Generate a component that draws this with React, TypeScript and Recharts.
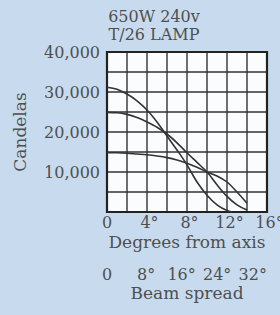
import { LineChart, Line, XAxis, YAxis, CartesianGrid, ReferenceArea, Label } from 'recharts';

const titleLines = ['650W 240v', 'T/26 LAMP'];

// degrees from axis / candelas, one pair of arrays per beam setting
const spotDeg = [0, 1, 2, 3, 4, 5, 6, 7, 8, 9, 10, 11, 12, 12.5];
const spotCd = [31200, 30700, 29500, 27800, 25500, 22500, 19000, 15500, 11800, 7500, 4200, 1800, 400, 0];

const mediumDeg = [0, 1, 2, 3, 4, 5, 6, 7, 8, 9, 10, 11, 12, 13, 14];
const mediumCd = [24900, 24800, 24400, 23600, 22500, 21200, 19500, 17300, 14800, 12400, 10000, 6800, 3900, 1800, 500];

const floodDeg = [0, 1, 2, 3, 4, 5, 6, 7, 8, 9, 10, 11, 12, 13, 14];
const floodCd = [14800, 14800, 14700, 14500, 14300, 14000, 13600, 13000, 12200, 11200, 10000, 9000, 7500, 5000, 2200];

const degreeTicks = [0, 2, 4, 6, 8, 10, 12, 14, 16];
const beamTicks = [0, 8, 16, 24, 32];
const candelaTicks = [0, 5000, 10000, 15000, 20000, 25000, 30000, 35000, 40000];

const toPoints = (xs: number[], ys: number[]) => xs.map((x, i) => ({ deg: x, cd: ys[i] }));

const spot = toPoints(spotDeg, spotCd);
const medium = toPoints(mediumDeg, mediumCd);
const flood = toPoints(floodDeg, floodCd);
// the beam-spread axis needs something bound to it before it draws its ticks
const beamScale = beamTicks.map((b) => ({ beam: b, cd: 0 }));

const FONT = '"DejaVu Serif", serif';
const TEXT = '#4f4f4f';
const INK = '#333';

const degLabel = (v: number) => (v === 0 ? '0' : `${v}°`);

function DegreeTick(props: any) {
  const { x, y, payload } = props;
  const v = payload.value;
  if (v % 4 !== 0) return null;
  return (
    <text x={v === 0 ? x : x + 2.5} y={y + 16} textAnchor="middle" fontFamily={FONT} fontSize={16} fill={TEXT}>
      {degLabel(v)}
    </text>
  );
}

function BeamTick(props: any) {
  const { x, y, payload } = props;
  const v = payload.value;
  return (
    <text x={v === 0 ? x : x + 3.5} y={y + 18} textAnchor="middle" fontFamily={FONT} fontSize={16} fill={TEXT}>
      {degLabel(v)}
    </text>
  );
}

function CandelaTick(props: any) {
  const { x, y, payload } = props;
  const v = payload.value;
  if (v === 0 || v % 10000 !== 0) return null;
  return (
    <text x={x} y={y + 6} textAnchor="end" fontFamily={FONT} fontSize={16} fill={TEXT}>
      {v.toLocaleString('en-US')}
    </text>
  );
}

export default function App() {
  return (
    <div style={{ position: 'absolute', left: 0, top: 0, width: 280, height: 315, background: '#c8dbee', overflow: 'hidden' }}>
      <div
        style={{
          position: 'absolute',
          left: 0,
          top: 8,
          width: 308,
          textAlign: 'center',
          fontFamily: FONT,
          fontSize: 16,
          lineHeight: '18px',
          color: TEXT,
        }}
      >
        {titleLines.map((t) => (
          <div key={t}>{t}</div>
        ))}
      </div>
      <LineChart width={280} height={315} margin={{ top: 52, right: 13, bottom: 3, left: 0 }}>
        <CartesianGrid fill="#fbfcfd" stroke={INK} strokeWidth={1.4} />
        <XAxis
          dataKey="deg"
          type="number"
          domain={[0, 16]}
          ticks={degreeTicks}
          interval={0}
          height={50}
          axisLine={false}
          tickLine={false}
          tickSize={0}
          tickMargin={0}
          tick={<DegreeTick />}
        >
          <Label
            content={({ viewBox }: any) => (
              <text x={viewBox.x + viewBox.width / 2} y={viewBox.y + 36} textAnchor="middle" fontFamily={FONT} fontSize={17} fill={TEXT}>
                Degrees from axis
              </text>
            )}
          />
        </XAxis>
        <XAxis
          xAxisId="beam"
          dataKey="beam"
          type="number"
          domain={[0, 36]}
          allowDataOverflow
          ticks={beamTicks}
          interval={0}
          height={50}
          axisLine={false}
          tickLine={false}
          tickSize={0}
          tickMargin={0}
          tick={<BeamTick />}
        >
          <Label
            content={({ viewBox }: any) => (
              <text x={viewBox.x + viewBox.width / 2} y={viewBox.y + 37} textAnchor="middle" fontFamily={FONT} fontSize={17} fill={TEXT}>
                Beam spread
              </text>
            )}
          />
        </XAxis>
        <YAxis
          type="number"
          domain={[0, 40000]}
          ticks={candelaTicks}
          interval={0}
          width={107}
          axisLine={false}
          tickLine={false}
          tickSize={0}
          tickMargin={7}
          tick={<CandelaTick />}
        >
          <Label
            content={({ viewBox }: any) => (
              <text
                x={20}
                y={viewBox.y + viewBox.height / 2}
                transform={`rotate(-90 20 ${viewBox.y + viewBox.height / 2})`}
                textAnchor="middle"
                dominantBaseline="central"
                fontFamily={FONT}
                fontSize={17}
                fill={TEXT}
              >
                Candelas
              </text>
            )}
          />
        </YAxis>
        <ReferenceArea x1={0} x2={16} y1={0} y2={40000} fill="none" stroke="#222" strokeWidth={2.2} ifOverflow="visible" />
        <Line xAxisId="beam" data={beamScale} dataKey="cd" stroke="none" dot={false} activeDot={false} isAnimationActive={false} />
        <Line data={spot} dataKey="cd" type="monotone" stroke={INK} strokeWidth={1.6} dot={false} isAnimationActive={false} />
        <Line data={medium} dataKey="cd" type="monotone" stroke={INK} strokeWidth={1.6} dot={false} isAnimationActive={false} />
        <Line data={flood} dataKey="cd" type="monotone" stroke={INK} strokeWidth={1.6} dot={false} isAnimationActive={false} />
      </LineChart>
    </div>
  );
}
